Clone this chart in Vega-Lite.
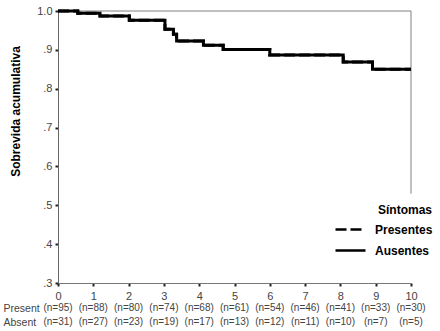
{
  "$schema": "https://vega.github.io/schema/vega-lite/v6.json",
  "background": "white",
  "padding": {"left": 3, "top": 5, "right": 5, "bottom": 3},
  "bounds": "flush",
  "spacing": 18,
  "config": {
    "font": "Liberation Sans",
    "view": {"stroke": null},
    "axis": {"labelOverlap": false, "labelSeparation": -30, "labelBound": false, "labelFlush": false, "grid": false, "tickColor": "#222222", "tickSize": 3, "tickWidth": 2, "labelColor": "#444444", "labelFontSize": 11, "labelPadding": 3}
  },
  "datasets": {
    "surv": [
      {"t": 0, "s": 1.0, "grp": "Ausentes"},
      {"t": 0.56, "s": 0.994, "grp": "Ausentes"},
      {"t": 1.19, "s": 0.987, "grp": "Ausentes"},
      {"t": 2.02, "s": 0.976, "grp": "Ausentes"},
      {"t": 3.03, "s": 0.953, "grp": "Ausentes"},
      {"t": 3.27, "s": 0.94, "grp": "Ausentes"},
      {"t": 3.36, "s": 0.923, "grp": "Ausentes"},
      {"t": 4.12, "s": 0.912, "grp": "Ausentes"},
      {"t": 4.68, "s": 0.901, "grp": "Ausentes"},
      {"t": 6.0, "s": 0.887, "grp": "Ausentes"},
      {"t": 8.08, "s": 0.869, "grp": "Ausentes"},
      {"t": 8.91, "s": 0.85, "grp": "Ausentes"},
      {"t": 10, "s": 0.85, "grp": "Ausentes"},
      {"t": 0, "s": 1.0, "grp": "Presentes"},
      {"t": 0.56, "s": 0.994, "grp": "Presentes"},
      {"t": 1.19, "s": 0.987, "grp": "Presentes"},
      {"t": 2.02, "s": 0.976, "grp": "Presentes"},
      {"t": 3.03, "s": 0.953, "grp": "Presentes"},
      {"t": 3.27, "s": 0.94, "grp": "Presentes"},
      {"t": 3.36, "s": 0.923, "grp": "Presentes"},
      {"t": 4.12, "s": 0.912, "grp": "Presentes"},
      {"t": 4.68, "s": 0.901, "grp": "Presentes"},
      {"t": 6.0, "s": 0.887, "grp": "Presentes"},
      {"t": 8.08, "s": 0.869, "grp": "Presentes"},
      {"t": 8.91, "s": 0.85, "grp": "Presentes"},
      {"t": 10, "s": 0.85, "grp": "Presentes"}
    ],
    "risk": [
      {"t": 0, "row": "Present", "label": "(n=95)"},
      {"t": 1, "row": "Present", "label": "(n=88)"},
      {"t": 2, "row": "Present", "label": "(n=80)"},
      {"t": 3, "row": "Present", "label": "(n=74)"},
      {"t": 4, "row": "Present", "label": "(n=68)"},
      {"t": 5, "row": "Present", "label": "(n=61)"},
      {"t": 6, "row": "Present", "label": "(n=54)"},
      {"t": 7, "row": "Present", "label": "(n=46)"},
      {"t": 8, "row": "Present", "label": "(n=41)"},
      {"t": 9, "row": "Present", "label": "(n=33)"},
      {"t": 10, "row": "Present", "label": "(n=30)"},
      {"t": 0, "row": "Absent", "label": "(n=31)"},
      {"t": 1, "row": "Absent", "label": "(n=27)"},
      {"t": 2, "row": "Absent", "label": "(n=23)"},
      {"t": 3, "row": "Absent", "label": "(n=19)"},
      {"t": 4, "row": "Absent", "label": "(n=17)"},
      {"t": 5, "row": "Absent", "label": "(n=13)"},
      {"t": 6, "row": "Absent", "label": "(n=12)"},
      {"t": 7, "row": "Absent", "label": "(n=11)"},
      {"t": 8, "row": "Absent", "label": "(n=10)"},
      {"t": 9, "row": "Absent", "label": "(n=7)"},
      {"t": 10, "row": "Absent", "label": "(n=5)"}
    ]
  },
  "vconcat": [
    {
      "width": 353,
      "height": 272,
      "layer": [
        {
          "data": {"values": [{}]},
          "mark": {"type": "rule", "color": "#808080", "strokeWidth": 1},
          "encoding": {
            "x": {
              "datum": 0, "type": "quantitative",
              "scale": {"domain": [0, 10], "nice": false, "zero": false},
              "axis": {"title": null, "values": [0,1,2,3,4,5,6,7,8,9,10], "tickCount": 11, "labelOverlap": false, "labelPadding": 4, "domainColor": "#777777"}
            },
            "x2": {"datum": 10},
            "y": {
              "datum": 1, "type": "quantitative",
              "scale": {"domain": [0.3, 1.0], "nice": false, "zero": false},
              "axis": {
                "title": "Sobrevida acumulativa", "titleFontSize": 12, "titleFontWeight": "bold",
                "titleColor": "black", "titleX": -43, "titleY": 100, "titleAngle": -90,
                "titleAlign": "center", "titleBaseline": "middle",
                "values": [0.3,0.4,0.5,0.6,0.7,0.8,0.9,1.0], "tickCount": 8, "labelOverlap": false,
                "labelExpr": "datum.value >= 0.999 ? '1.0' : '.' + round(datum.value * 10)",
                "domainColor": "#666666"
              }
            }
          }
        },
        {
          "data": {"values": [{}]},
          "mark": {"type": "rule", "color": "#808080", "strokeWidth": 1},
          "encoding": {
            "x": {"datum": 10, "type": "quantitative"},
            "y": {"datum": 0.53, "type": "quantitative"},
            "y2": {"datum": 1}
          }
        },
        {
          "data": {"name": "surv"},
          "mark": {"type": "line", "interpolate": "step-after", "strokeWidth": 3, "color": "black"},
          "encoding": {
            "x": {"field": "t", "type": "quantitative"},
            "y": {"field": "s", "type": "quantitative"},
            "strokeDash": {
              "field": "grp", "type": "nominal",
              "scale": {"domain": ["Presentes", "Ausentes"], "range": [[11, 4], [1, 0]]},
              "legend": {
                "title": "Síntomas", "orient": "none", "legendX": 286, "legendY": 194,
                "titleFontSize": 12, "titleFontWeight": "bold", "titleColor": "black", "titleAnchor": "end",
                "labelFontSize": 12, "labelFontWeight": "bold", "labelColor": "black",
                "symbolType": "M-3,0H3", "symbolSize": 100, "symbolStrokeWidth": 2.5,
                "symbolStrokeColor": "black", "labelOffset": 18, "rowPadding": 8, "titlePadding": 6
              }
            },
            "order": {"field": "grp", "sort": "ascending"}
          }
        }
      ]
    },
    {
      "width": 353,
      "height": 28,
      "data": {"name": "risk"},
      "mark": {"type": "text", "fontSize": 10, "color": "#444444", "align": "center", "baseline": "middle"},
      "encoding": {
        "x": {"field": "t", "type": "quantitative", "scale": {"domain": [0, 10], "nice": false}, "axis": null},
        "y": {
          "field": "row", "type": "nominal", "sort": ["Present", "Absent"],
          "scale": {"type": "point", "padding": 0.5},
          "axis": {"title": null, "domain": false, "ticks": false, "labelAlign": "left",
                   "labelPadding": 55, "labelFontSize": 10.5, "labelColor": "#444444", "labelBaseline": "middle"}
        },
        "text": {"field": "label"}
      }
    }
  ]
}
